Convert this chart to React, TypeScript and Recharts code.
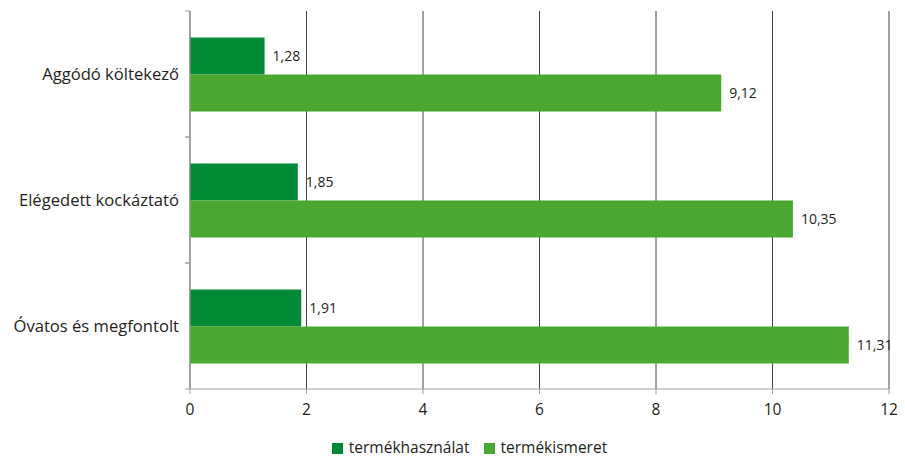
import { BarChart, Bar, XAxis, YAxis, CartesianGrid, Legend, LabelList } from 'recharts'

const segments = ['Aggódó költekező', 'Elégedett kockáztató', 'Óvatos és megfontolt']
const productUse = [1.28, 1.85, 1.91]
const productKnowledge = [9.12, 10.35, 11.31]
const xTicks = [0, 2, 4, 6, 8, 10, 12]

const data = segments.map((name, i) => ({
  name,
  use: productUse[i],
  knowledge: productKnowledge[i],
}))

const FONT = '"Open Sans", sans-serif'
const DARK = '#008a35'
const LIGHT = '#4aa72f'

const fmt = (v: any) => String(v).replace('.', ',')

function CategoryTick(props: any) {
  const { x, y, payload } = props
  const half = payload?.offset ?? 0
  return (
    <g>
      <text x={x - 11} y={y} dy="0.35em" textAnchor="end" fontSize={16.6} fill="#231f20" fontFamily={FONT}>
        {payload.value}
      </text>
      <line x1={x - 5} x2={x} y1={y - half} y2={y - half} stroke="#a0a0a0" />
      <line x1={x - 5} x2={x} y1={y + half} y2={y + half} stroke="#a0a0a0" />
    </g>
  )
}

export default function App() {
  return (
    <div style={{ width: 890, height: 450, fontFamily: FONT }}>
      <BarChart
        width={890}
        height={450}
        data={data}
        layout="vertical"
        margin={{ top: 3, right: 9, left: 0, bottom: 0 }}
        barCategoryGap="21%"
        barGap={0}
      >
        <CartesianGrid horizontal={false} stroke="#444" />
        <XAxis
          type="number"
          domain={[0, 12]}
          ticks={xTicks}
          height={47}
          axisLine={{ stroke: '#a0a0a0' }}
          tickLine={{ stroke: '#a0a0a0' }}
          tickSize={5}
          tickMargin={10}
          tick={{ fontSize: 15.5, fill: '#231f20', fontFamily: FONT }}
        />
        <YAxis
          type="category"
          dataKey="name"
          width={182}
          axisLine={{ stroke: '#a0a0a0' }}
          tickLine={false}
          tickSize={0}
          tickMargin={0}
          tick={<CategoryTick />}
        />
        <Legend
          verticalAlign="bottom"
          align="center"
          iconType="square"
          iconSize={11}
          wrapperStyle={{ paddingLeft: 28, fontFamily: FONT }}
          formatter={(value: string) => (
            <span style={{ color: '#231f20', fontSize: 15.5, fontFamily: FONT, marginLeft: 2, marginRight: 4 }}>{value}</span>
          )}
        />
        <Bar dataKey="use" name="termékhasználat" fill={DARK} isAnimationActive={false}>
          <LabelList dataKey="use" position="right" offset={8} formatter={fmt} fill="#231f20" fontSize={14} fontFamily={FONT} />
        </Bar>
        <Bar dataKey="knowledge" name="termékismeret" fill={LIGHT} isAnimationActive={false}>
          <LabelList dataKey="knowledge" position="right" offset={8} formatter={fmt} fill="#231f20" fontSize={14} fontFamily={FONT} />
        </Bar>
      </BarChart>
    </div>
  )
}
